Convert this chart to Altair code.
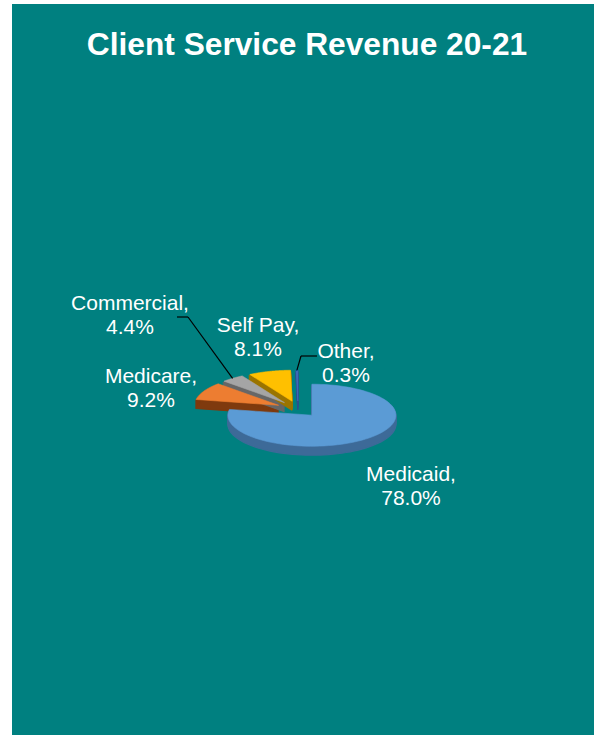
import altair as alt
import pandas as pd

# ---- data ----
categories = ["Medicaid", "Medicare", "Commercial", "Self Pay", "Other"]
values = [78.0, 9.2, 4.4, 8.1, 0.3]

# ---- styles ----
top_colors = ["#5b9bd5", "#ed7d31", "#a5a5a5", "#ffc000", "#3f6fbf"]
side_colors = ["#3d6a98", "#7f3a0e", "#676767", "#9a7400", "#2c4f8c"]

# ---- layout ----
label_x = [411, 151, 130, 258, 346]
label_y = [481, 383, 310, 332, 358]
leader_cats = ["Commercial", "Other"]
leader_x0 = [177, 317]
leader_x1 = [188, 301]
leader_y = [317, 356]

W, H = 594, 735
CX, CY = 298, 409
RX, RY = 84, 31
EXPLODE = 0.26
DEPTH = 9
N = 90
FONT = "Liberation Sans"

slices = pd.DataFrame({"category": categories, "value": values,
                       "ord": list(range(len(categories)))})
labels = pd.DataFrame({"category": categories, "lx": label_x, "ly": label_y})
leaders = pd.DataFrame({"category": leader_cats, "lx0": leader_x0,
                        "lx1": leader_x1, "ly": leader_y})

xs = alt.Scale(domain=[0, W], nice=False, zero=False)
ys = alt.Scale(domain=[0, H], nice=False, zero=False, reverse=True)

base = (
    alt.Chart(slices)
    .transform_joinaggregate(total="sum(value)")
    .transform_window(cum="sum(value)", sort=[alt.SortField("ord")], frame=[None, 0])
    .transform_calculate(
        a0="2*PI*(datum.cum - datum.value)/datum.total",
        a1="2*PI*datum.cum/datum.total",
    )
    .transform_calculate(am="(datum.a0 + datum.a1)/2")
    .transform_calculate(
        vx=f"{CX} + {EXPLODE * RX}*sin(datum.am)",
        vy=f"{CY} - {EXPLODE * RY}*cos(datum.am)",
    )
)

poly = (
    base.transform_calculate(pts=f"sequence(0, {N + 3})")
    .transform_flatten(["pts"], as_=["i"])
    .transform_calculate(t=f"datum.a0 + (datum.i - 1)/{N}*(datum.a1 - datum.a0)")
    .transform_calculate(
        px=f"(datum.i == 0 || datum.i == {N + 2}) ? datum.vx : datum.vx + {RX}*sin(datum.t)",
        py0=f"(datum.i == 0 || datum.i == {N + 2}) ? datum.vy : datum.vy - {RY}*cos(datum.t)",
    )
)

sides = (
    poly.transform_calculate(dd=f"sequence(1, {DEPTH + 1})")
    .transform_flatten(["dd"], as_=["d"])
    .transform_calculate(py="datum.py0 + datum.d")
    .mark_line(strokeWidth=1.2, interpolate="linear")
    .encode(
        x=alt.X("px:Q", scale=xs, axis=None),
        y=alt.Y("py:Q", scale=ys, axis=None),
        order=alt.Order("i:Q"),
        fill=alt.Fill("category:N", scale=alt.Scale(domain=categories, range=side_colors), legend=None),
        stroke=alt.Stroke("category:N", scale=alt.Scale(domain=categories, range=side_colors), legend=None),
        detail=["category:N", "d:Q"],
    )
)

tops = (
    poly.transform_calculate(py="datum.py0")
    .mark_line(strokeWidth=0.6, interpolate="linear")
    .encode(
        x=alt.X("px:Q", scale=xs, axis=None),
        y=alt.Y("py:Q", scale=ys, axis=None),
        order=alt.Order("i:Q"),
        fill=alt.Fill("category:N", scale=alt.Scale(domain=categories, range=top_colors), legend=None),
        stroke=alt.Stroke("category:N", scale=alt.Scale(domain=categories, range=top_colors), legend=None),
        detail="category:N",
    )
)

lead_base = (
    base.transform_lookup(lookup="category",
                          from_=alt.LookupData(leaders, "category", ["lx0", "lx1", "ly"]))
    .transform_filter("isValid(datum.lx0)")
    .transform_calculate(
        ox=f"datum.vx + {RX}*sin(datum.am)",
        oy=f"datum.vy - {RY}*cos(datum.am)",
    )
)
lead_h = lead_base.mark_rule(color="black", strokeWidth=1.2).encode(
    x=alt.X("lx0:Q", scale=xs, axis=None), x2="lx1:Q",
    y=alt.Y("ly:Q", scale=ys, axis=None), y2="ly:Q",
)
lead_d = lead_base.mark_rule(color="black", strokeWidth=1.2).encode(
    x=alt.X("lx1:Q", scale=xs, axis=None), x2="ox:Q",
    y=alt.Y("ly:Q", scale=ys, axis=None), y2="oy:Q",
)

text = (
    base.transform_lookup(lookup="category",
                          from_=alt.LookupData(labels, "category", ["lx", "ly"]))
    .transform_calculate(
        txt="datum.category + ',\\n' + format(datum.value / datum.total, '.1%')"
    )
    .mark_text(align="center", baseline="alphabetic", lineBreak="\n",
               fontSize=21, lineHeight=24, font=FONT, color="white")
    .encode(
        x=alt.X("lx:Q", scale=xs, axis=None),
        y=alt.Y("ly:Q", scale=ys, axis=None),
        text="txt:N",
    )
)

dummy = pd.DataFrame({"k": [0]})
bg = alt.Chart(dummy).mark_rect(color="#008080").encode(
    x=alt.value(12), x2=alt.value(W), y=alt.value(4), y2=alt.value(H)
)
title = alt.Chart(dummy).mark_text(
    text="Client Service Revenue 20-21", font=FONT, fontSize=31.7,
    fontWeight="bold", color="white", align="center", baseline="alphabetic",
).encode(x=alt.value(307), y=alt.value(55))

chart = (
    alt.layer(bg, sides, tops, lead_h, lead_d, text, title)
    .resolve_scale(fill="independent", stroke="independent")
    .properties(width=W, height=H, padding=0, autosize="none", background="white")
    .configure_view(stroke=None)
)

chart.save("out.html", embed_options={"renderer": "svg", "actions": False})
